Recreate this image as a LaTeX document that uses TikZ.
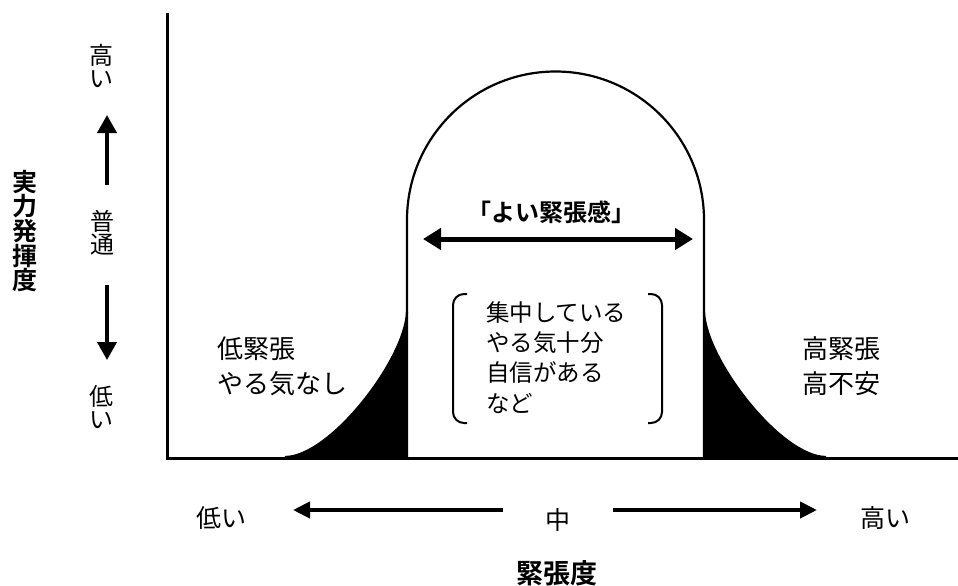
\documentclass[tikz,border=0pt]{standalone}
\usepackage{fontspec}
\setmainfont{Noto Sans CJK JP}[BoldFont={Noto Sans CJK JP Bold}]
\usetikzlibrary{arrows.meta}
\begin{document}
\begin{tikzpicture}[x=1pt,y=-1pt,
  txt/.style={inner sep=0pt, outer sep=0pt},
  side/.style={txt, font=\fontsize{26}{35}\selectfont, align=left, anchor=west},
  inbox/.style={txt, font=\fontsize{23.5}{30.3}\selectfont, align=left, anchor=west},
  vstack/.style={txt, font=\fontsize{24}{22.5}\selectfont, align=center},
  bottomlbl/.style={txt, font=\fontsize{25}{25}\selectfont},
  axisline/.style={line width=3pt},
  outline/.style={line width=2.2pt},
  thinarrow/.style={line width=4pt, -{Triangle[length=17pt,width=16pt]}},
  vertarrow/.style={line width=4pt, -{Triangle[length=18pt,width=19pt]}},
  bigarrow/.style={line width=5pt, {Triangle[length=18pt,width=21pt]}-{Triangle[length=18pt,width=21pt]}},
  bracketline/.style={line width=2pt, rounded corners=11pt}]
\useasboundingbox (0,0) rectangle (958,586);

% axes
\coordinate (ytop) at (167,13);
\coordinate (origin) at (167,458);
\coordinate (xend) at (958,458);
\draw[axisline] (ytop) -- (origin) -- (xend);

% black tails
\fill (407,312) .. controls (405,360) and (330,457) .. (285,457) -- (407,457) -- cycle;
\fill (704,312) .. controls (706,360) and (781,457) .. (826,457) -- (704,457) -- cycle;
\draw[outline] (407,312) .. controls (405,360) and (330,457) .. (285,457);
\draw[outline] (704,312) .. controls (706,360) and (781,457) .. (826,457);

% central bell
\draw[outline, line join=round] (407,458) -- (407,220) arc[start angle=180, end angle=360, radius=148.5] -- (704,458);

% good tension label and arrow
\node[txt, font=\bfseries\fontsize{24}{24}\selectfont] (good) at (551,212) {「よい緊張感」};
\coordinate (gl) at (423,239);
\coordinate (gr) at (693,239);
\draw[bigarrow] (gl) -- (gr);

% bracket
\coordinate (bl1) at (467,294);
\coordinate (bl2) at (453,294);
\coordinate (bl3) at (453,423);
\coordinate (bl4) at (467,423);
\draw[bracketline] (bl1) -- (bl2) -- (bl3) -- (bl4);
\coordinate (br1) at (648,294);
\coordinate (br2) at (662,294);
\coordinate (br3) at (662,423);
\coordinate (br4) at (648,423);
\draw[bracketline] (br1) -- (br2) -- (br3) -- (br4);
\node[inbox] (inside) at (486,357.5) {集中している\\やる気十分\\自信がある\\など};

% side texts
\node[side] (low) at (217,366.5) {低緊張\\やる気なし};
\node[side] (high) at (802,366.5) {高緊張\\高不安};

% vertical axis labels
\node[txt, font=\bfseries\fontsize{25}{24.6}\selectfont, align=center] (ylab) at (25,231) {実\\力\\発\\揮\\度};
\node[vstack] (yhi) at (101,66) {高\\い};
\node[vstack] (ymid) at (102,233) {普\\通};
\node[vstack] (ylo) at (101,407) {低\\い};
\coordinate (upfrom) at (107,185);
\coordinate (upto) at (107,115);
\coordinate (downfrom) at (107,285);
\coordinate (downto) at (107,360);
\draw[vertarrow] (upfrom) -- (upto);
\draw[vertarrow] (downfrom) -- (downto);

% horizontal axis labels
\node[bottomlbl] (xlo) at (221,518) {低い};
\node[bottomlbl] (xmid) at (558,520) {中};
\node[bottomlbl] (xhi) at (885,518) {高い};
\node[txt, font=\bfseries\fontsize{27}{27}\selectfont] (xlab) at (557,573) {緊張度};
\coordinate (lfrom) at (503,510);
\coordinate (lto) at (293,510);
\coordinate (rfrom) at (613,510);
\coordinate (rto) at (817,510);
\draw[thinarrow] (lfrom) -- (lto);
\draw[thinarrow] (rfrom) -- (rto);
\end{tikzpicture}
\end{document}
